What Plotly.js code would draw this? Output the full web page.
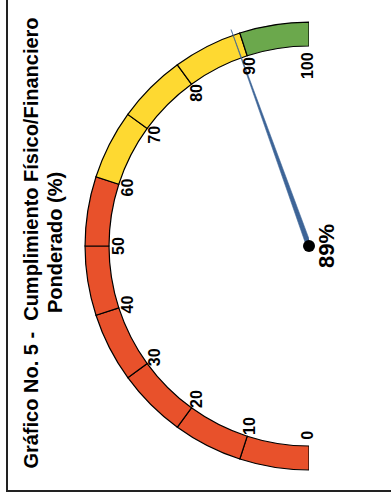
<!DOCTYPE html>
<html>
<head>
<meta charset="utf-8">
<script src="https://cdn.plot.ly/plotly-3.0.1.min.js"></script>
<style>
  html, body { margin: 0; padding: 0; background: #ffffff; overflow: hidden; }
  #wrap { position: absolute; left: 0; top: 0; width: 499px; height: 391px;
          transform-origin: 0 0; transform: translate(0px, 499px) rotate(-90deg); }
</style>
</head>
<body>
<div id="wrap"><div id="chart" style="width:499px;height:391px;"></div></div>
<script>
// ---- data ----
const titleLine1 = 'Gráfico No. 5 -  Cumplimiento Físico/Financiero';
const titleLine2 = 'Ponderado (%)';
const tickValues = [0, 10, 20, 30, 40, 50, 60, 70, 80, 90, 100];
const tickLabels = ['0', '10', '20', '30', '40', '50', '60', '70', '80', '90', '100'];
const zoneStarts = [0, 60, 90];
const zoneEnds = [60, 90, 100];
const zoneColors = ['#E8512B', '#FED931', '#6BA84C'];
const gaugeValue = 89;
const valueLabel = '89%';

// ---- scale: gauge value (0..100) -> angular degrees (0..180) ----
const DEG = 180 / 100;
const FONT = 'Arial, "Liberation Sans", sans-serif';
const rInner = 0.893;   // inner edge of the band (outer edge = 1)

// segments between consecutive ticks, coloured by zone
const segTheta = [], segWidth = [], segColor = [], segBase = [], segLen = [];
for (let i = 0; i < tickValues.length - 1; i++) {
  const a = tickValues[i], b = tickValues[i + 1];
  const mid = (a + b) / 2;
  let c = zoneColors[0];
  for (let z = 0; z < zoneStarts.length; z++) if (mid >= zoneStarts[z] && mid < zoneEnds[z]) c = zoneColors[z];
  segTheta.push(mid * DEG); segWidth.push((b - a) * DEG); segColor.push(c);
  segBase.push(rInner); segLen.push(1 - rInner);
}

const bands = {
  type: 'barpolar', theta: segTheta, width: segWidth, base: segBase, r: segLen,
  marker: { color: segColor, line: { color: '#000000', width: 1.2 } },
  hoverinfo: 'skip', showlegend: false
};

const labels = {
  type: 'scatterpolar', mode: 'text',
  theta: tickValues.map(v => v * DEG),
  r: tickLabels.map(t => t.length > 2 ? 0.805 : 0.845),
  text: tickLabels, textposition: 'middle center',
  textfont: { family: FONT, size: 16, color: '#000000', weight: 'bold' },
  hoverinfo: 'skip', showlegend: false, cliponaxis: false
};

const tv = gaugeValue * DEG;
const needle = {
  type: 'scatterpolar', mode: 'lines',
  theta: [tv + 90, tv, tv - 90, tv + 90],
  r: [0.011, 1.027, 0.011, 0.011],
  fill: 'toself', fillcolor: '#3D6497',
  line: { color: '#3D6497', width: 0.6 },
  hoverinfo: 'skip', showlegend: false, cliponaxis: false
};

const hub = {
  type: 'scatterpolar', mode: 'markers+text',
  theta: [0], r: [0],
  marker: { color: '#000000', size: 12 },
  text: [valueLabel], textposition: 'bottom center',
  textfont: { family: FONT, size: 22, color: '#000000', weight: 'bold' },
  hoverinfo: 'skip', showlegend: false, cliponaxis: false
};

const layout = {
  width: 499, height: 391,
  margin: { l: 0, r: 0, t: 0, b: 0 },
  paper_bgcolor: '#ffffff',
  font: { family: FONT, color: '#000000' },
  title: {
    text: titleLine1, x: 0.513, xanchor: 'center', y: 1 - 24 / 391, yanchor: 'top', yref: 'container',
    font: { family: FONT, size: 20, color: '#000000', weight: 'bold' }
  },
  annotations: [{
    text: titleLine2, xref: 'paper', yref: 'paper', x: 0.515, y: 1 - 55 / 391,
    xanchor: 'center', yanchor: 'middle', showarrow: false,
    font: { family: FONT, size: 20, color: '#000000', weight: 'bold' }
  }],
  polar: {
    domain: { x: [0.0447, 0.9693], y: [0.2097, 0.7997] },
    sector: [0, 180],
    bgcolor: 'rgba(0,0,0,0)',
    radialaxis: { visible: false, range: [0, 1.03] },
    angularaxis: { visible: false, direction: 'clockwise', rotation: 180, thetaunit: 'degrees' },
    barmode: 'overlay'
  },
  shapes: [{
    type: 'rect', xref: 'paper', yref: 'paper',
    x0: 8 / 499, x1: 1.02, y0: -0.02, y1: 1 - 7 / 391,
    line: { color: '#222222', width: 2 }, fillcolor: 'rgba(0,0,0,0)'
  }]
};

Plotly.newPlot('chart', [bands, needle, labels, hub], layout, { staticPlot: true, displayModeBar: false });
</script>
</body>
</html>
